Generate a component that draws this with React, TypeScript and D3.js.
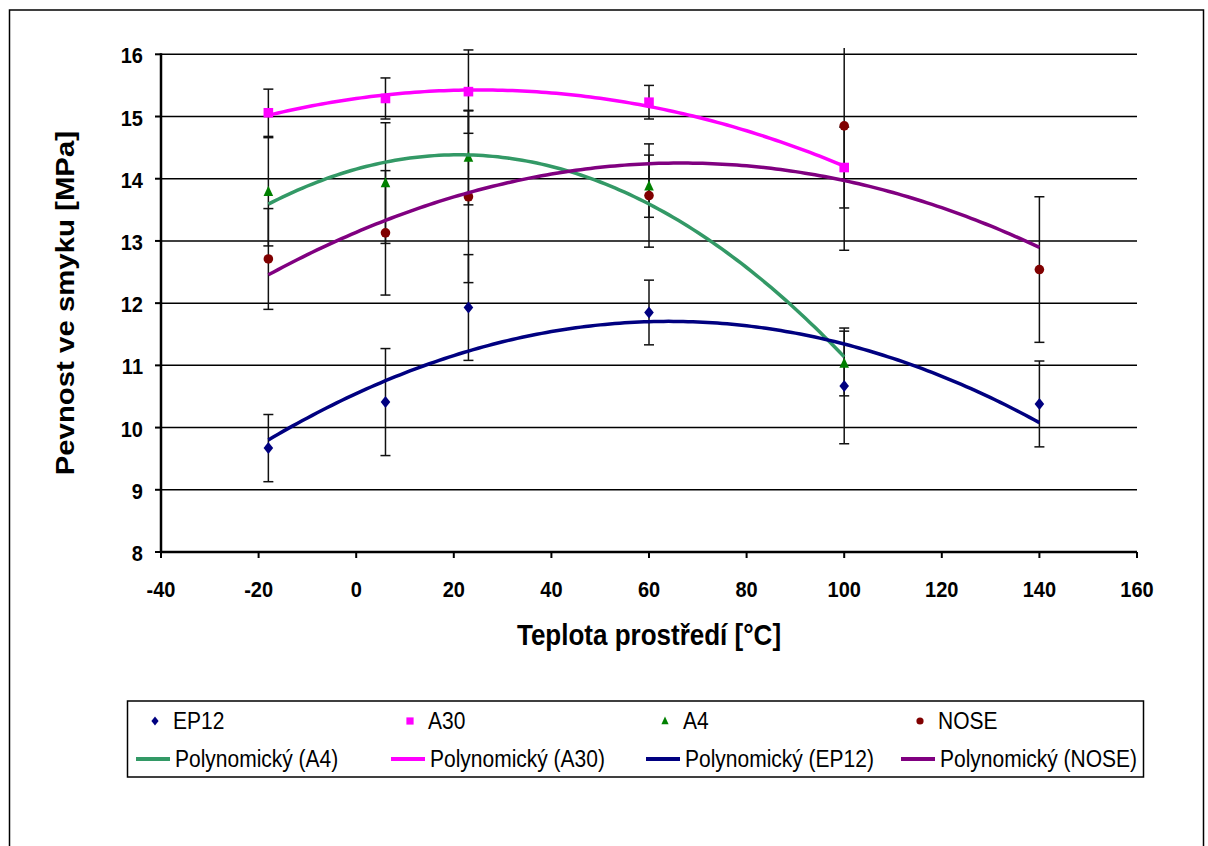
import React from "react";
import * as d3 from "d3";

// temperatures of the test series [°C]
const temps = [-18, 6, 23, 60, 100, 140];

// shear strength [MPa], with error bar half-widths
const ep12 = [9.67, 10.41, 11.93, 11.85, 10.67, 10.38];
const ep12Err = [0.54, 0.86, 0.85, 0.52, 0.93, 0.69];
const a30 = [15.06, 15.29, 15.4, 15.23, 14.18];
const a30Err = [0.38, 0.33, 0.67, 0.27, 0.65];
const a4 = [13.79, 13.93, 14.34, 13.88, 11.03];
const a4Err = [0.87, 0.97, 0.76, 0.5, 0.52];
const nose = [12.71, 13.13, 13.71, 13.73, 14.85, 12.54];
const noseErr = [0.81, 1.0, 1.38, 0.83, 2.0, 1.17];

const xTicks = [-40, -20, 0, 20, 40, 60, 80, 100, 120, 140, 160];
const yTicks = [8, 9, 10, 11, 12, 13, 14, 15, 16];

const W = 1208;
const H = 846;
const FONT = "'Liberation Sans', Arial, sans-serif";
const STRETCH = 1.13; // the picture is a bit taller than wide

const x = d3.scaleLinear().domain([-40, 160]).range([161, 1137]);
const y = d3.scaleLinear().domain([8, 16]).range([552, 54.3]);

// least squares 2nd order polynomial, like Excel's "Polynomický" trendline
function quadFit(xs: number[], ys: number[]) {
  const n = xs.length;
  const s = [0, 0, 0, 0, 0];
  const t = [0, 0, 0];
  for (let i = 0; i < n; i++) {
    for (let k = 0; k < 5; k++) s[k] += Math.pow(xs[i], k);
    for (let k = 0; k < 3; k++) t[k] += ys[i] * Math.pow(xs[i], k);
  }
  const m = [
    [s[0], s[1], s[2], t[0]],
    [s[1], s[2], s[3], t[1]],
    [s[2], s[3], s[4], t[2]],
  ];
  for (let c = 0; c < 3; c++) {
    for (let r = c + 1; r < 3; r++) {
      const f = m[r][c] / m[c][c];
      for (let k = c; k < 4; k++) m[r][k] -= f * m[c][k];
    }
  }
  const b = [0, 0, 0];
  for (let r = 2; r >= 0; r--) {
    let v = m[r][3];
    for (let k = r + 1; k < 3; k++) v -= m[r][k] * b[k];
    b[r] = v / m[r][r];
  }
  return (v: number) => b[0] + b[1] * v + b[2] * v * v;
}

type Series = {
  name: string;
  vals: number[];
  err: number[];
  marker: string;
  color: string;
  trend: string;
};

const series: Series[] = [
  { name: "EP12", vals: ep12, err: ep12Err, marker: "diamond", color: "#000080", trend: "#000080" },
  { name: "A30", vals: a30, err: a30Err, marker: "square", color: "#FF00FF", trend: "#FF00FF" },
  { name: "A4", vals: a4, err: a4Err, marker: "triangle", color: "#008000", trend: "#339966" },
  { name: "NOSE", vals: nose, err: noseErr, marker: "circle", color: "#800000", trend: "#800080" },
];

const trendOrder = ["A4", "A30", "EP12", "NOSE"];

function Marker({ kind, cx, cy, color, s }: { kind: string; cx: number; cy: number; color: string; s: number }) {
  if (kind === "diamond")
    return <path d={`M${cx},${cy - s}L${cx + s * 0.8},${cy}L${cx},${cy + s}L${cx - s * 0.8},${cy}Z`} fill={color} />;
  if (kind === "square")
    return <rect x={cx - s * 0.8} y={cy - s * 0.8} width={s * 1.6} height={s * 1.6} fill={color} />;
  if (kind === "triangle")
    return <path d={`M${cx},${cy - s}L${cx + s * 0.8},${cy + s * 0.7}L${cx - s * 0.8},${cy + s * 0.7}Z`} fill={color} />;
  return <circle cx={cx} cy={cy} r={s * 0.8} fill={color} />;
}

function Txt({
  x0,
  y0,
  size,
  bold,
  anchor,
  rotate,
  children,
}: {
  x0: number;
  y0: number;
  size: number;
  bold?: boolean;
  anchor?: string;
  rotate?: boolean;
  children: React.ReactNode;
}) {
  return (
    <text
      transform={`translate(${x0},${y0}) scale(1,${STRETCH})${rotate ? " rotate(-90)" : ""}`}
      fontSize={size}
      fontWeight={bold ? "bold" : "normal"}
      textAnchor={anchor || "start"}
    >
      {children}
    </text>
  );
}

export default function App() {
  const trends = trendOrder.map((nm) => {
    const s = series.find((q) => q.name === nm)!;
    const xs = temps.slice(0, s.vals.length);
    const f = quadFit(xs, s.vals);
    const pts = d3.range(xs[0], xs[xs.length - 1] + 0.001, 1).map((v) => [v, f(v)] as [number, number]);
    const path = d3
      .line<[number, number]>()
      .x((p) => x(p[0]))
      .y((p) => y(p[1]))(pts);
    return { s, d: path };
  });

  const legendCols = [127, 382, 637, 892];

  return (
    <svg width={W} height={H} style={{ display: "block", position: "absolute", left: 0, top: 0 }} fontFamily={FONT}>
      <rect x={0} y={0} width={W} height={H} fill="#fff" />
      <rect x={9.5} y={10} width={1194} height={850} fill="none" stroke="#000" strokeWidth={1.5} />

      <defs>
        <clipPath id="plot-clip">
          <rect x={161} y={48} width={980} height={510} />
        </clipPath>
      </defs>

      {/* gridlines */}
      {yTicks.slice(1).map((t) => (
        <line key={t} x1={161} x2={1137} y1={y(t)} y2={y(t)} stroke="#000" strokeWidth={1.5} />
      ))}

      {/* axes */}
      <line x1={161} x2={161} y1={y(16) - 1} y2={y(8)} stroke="#000" strokeWidth={2.5} />
      <line x1={160} x2={1137} y1={y(8)} y2={y(8)} stroke="#000" strokeWidth={2.5} />
      {yTicks.map((t) => (
        <g key={t}>
          <line x1={155} x2={161} y1={y(t)} y2={y(t)} stroke="#000" strokeWidth={2} />
          <Txt x0={143} y0={y(t) + 9} size={20} bold anchor="end">
            {t}
          </Txt>
        </g>
      ))}
      {xTicks.map((t) => (
        <g key={t}>
          <line x1={x(t)} x2={x(t)} y1={y(8)} y2={y(8) + 6} stroke="#000" strokeWidth={2} />
          <Txt x0={x(t)} y0={597} size={20} bold anchor="middle">
            {t}
          </Txt>
        </g>
      ))}

      <Txt x0={649} y0={645} size={26} bold anchor="middle">
        Teplota prostředí [°C]
      </Txt>
      <Txt x0={74} y0={(y(16) + y(8)) / 2} size={26} bold anchor="middle" rotate>
        Pevnost ve smyku [MPa]
      </Txt>

      {/* error bars */}
      <g clipPath="url(#plot-clip)">
        {series.map((s) =>
          s.vals.map((v, i) => {
            const cx = x(temps[i]);
            const top = y(v + s.err[i]);
            const bot = y(v - s.err[i]);
            return (
              <g key={s.name + i} stroke="#111" strokeWidth={1.5}>
                <line x1={cx} x2={cx} y1={top} y2={bot} />
                <line x1={cx - 5} x2={cx + 5} y1={top} y2={top} />
                <line x1={cx - 5} x2={cx + 5} y1={bot} y2={bot} />
              </g>
            );
          })
        )}
      </g>

      {/* markers */}
      {series.map((s) =>
        s.vals.map((v, i) => (
          <Marker key={s.name + i} kind={s.marker} cx={x(temps[i])} cy={y(v)} color={s.color} s={6} />
        ))
      )}

      {/* trendlines */}
      {trends.map((t) => (
        <path key={t.s.name} d={t.d || ""} fill="none" stroke={t.s.trend} strokeWidth={3.5} />
      ))}

      {/* legend */}
      <rect x={127.5} y={701} width={1016} height={76} fill="#fff" stroke="#000" strokeWidth={1.5} />
      {series.map((s, i) => (
        <g key={s.name}>
          <Marker kind={s.marker} cx={legendCols[i] + 28} cy={721} color={s.color} s={4.5} />
          <Txt x0={legendCols[i] + 46} y0={729} size={21}>
            {s.name}
          </Txt>
        </g>
      ))}
      {trends.map((t, i) => (
        <g key={t.s.name}>
          <line
            x1={legendCols[i] + 9}
            x2={legendCols[i] + 43}
            y1={759}
            y2={759}
            stroke={t.s.trend}
            strokeWidth={4}
          />
          <Txt x0={legendCols[i] + 48} y0={767} size={21}>
            {`Polynomický (${t.s.name})`}
          </Txt>
        </g>
      ))}
    </svg>
  );
}
